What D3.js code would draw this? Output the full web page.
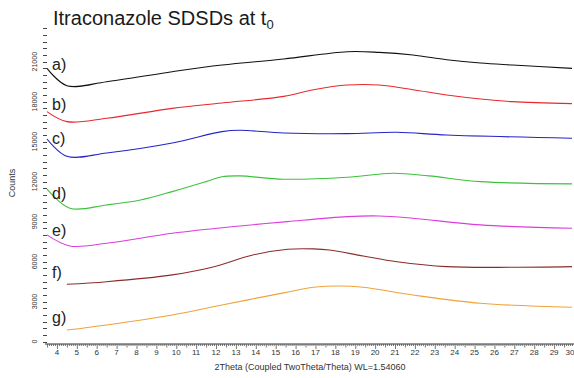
<!DOCTYPE html>
<html>
<head>
<meta charset="utf-8">
<script src="https://cdn.jsdelivr.net/npm/d3@7"></script>
<style>
  body { margin: 0; background: #fff; }
  text { font-family: "Liberation Sans", Arial, sans-serif; }
</style>
</head>
<body>
<div id="chart"></div>
<script>
// XRD patterns, 2Theta (deg) vs counts
var sampleNames = ["a)", "b)", "c)", "d)", "e)", "f)", "g)"];
var sampleColors = ["#111111", "#e8282c", "#2424c8", "#3cc23c", "#dc3cdc", "#8a2c2c", "#f0a23a"];

var thetaA = [3.5, 4.5, 6.5, 9.8, 12.3, 15.4, 18.6, 20.2, 21.9, 23.6, 25.3, 26.9, 29.9];
var countsA = [20500, 19200, 19500, 20250, 20750, 21200, 21750, 21700, 21500, 21150, 20900, 20750, 20500];

var thetaB = [3.5, 4.5, 6.5, 9.8, 12.3, 15.4, 16.9, 18.6, 20.2, 21.9, 23.6, 25.3, 26.9, 29.9];
var countsB = [17250, 16500, 16750, 17500, 17900, 18400, 18900, 19250, 19250, 18900, 18500, 18200, 18000, 17850];

var thetaC = [3.5, 4.5, 6.5, 9.8, 12.3, 13.2, 15.4, 18.6, 21.1, 23.6, 29.9];
var countsC = [15200, 13900, 14150, 14900, 15750, 15850, 15650, 15600, 15700, 15500, 15250];

var thetaD = [3.5, 4.65, 6.5, 8.2, 9.8, 11.5, 12.3, 13.2, 15.4, 18.6, 20.9, 22.7, 25.3, 29.9];
var countsD = [11430, 10000, 10250, 10620, 11250, 12000, 12370, 12430, 12180, 12330, 12630, 12430, 12000, 11830];

var thetaE = [3.5, 4.65, 6.5, 9.8, 13.2, 15.6, 18.6, 20.2, 21.9, 25.3, 29.9];
var countsE = [8000, 7170, 7370, 8120, 8670, 9000, 9370, 9420, 9250, 8750, 8500];

var thetaF = [4.5, 6.5, 9.8, 11.8, 13.85, 15.6, 16.9, 17.7, 19.4, 21.1, 23.6, 26.9, 29.9];
var countsF = [4300, 4490, 5000, 5570, 6490, 6920, 6950, 6870, 6420, 5990, 5620, 5570, 5620];

var thetaG = [4.5, 6.5, 9.8, 12.3, 15.4, 16.9, 18.2, 19.4, 21.9, 25.3, 29.9];
var countsG = [860, 1240, 1990, 2740, 3650, 4070, 4170, 4070, 3490, 2870, 2570];

// where the a) ... g) labels sit (counts)
var labelCounts = [20760, 17760, 15280, 11150, 8370, 5220, 1840];

var xTicks = d3.range(4, 31);
var yTicks = d3.range(0, 21001, 3000);

var svgWidth = 574;
var svgHeight = 378;

var svg = d3.select("#chart")
  .append("svg")
  .attr("width", svgWidth)
  .attr("height", svgHeight);

svg.append("rect")
  .attr("width", svgWidth)
  .attr("height", svgHeight)
  .attr("fill", "#fff");

var xScale = d3.scaleLinear()
  .domain([3.45, 30])
  .range([46, 574]);

var yScale = d3.scaleLinear()
  .domain([0, 21000])
  .range([341.5, 61.7]);

// title
var title = svg.append("text")
  .attr("x", 53)
  .attr("y", 25)
  .attr("font-size", 20)
  .attr("fill", "#1a1a1a")
  .text("Itraconazole SDSDs at t");
title.append("tspan")
  .attr("font-size", 13)
  .attr("dy", 4)
  .text("0");

// x axis: line + comb of ticks
var xAxisY = 344;
svg.append("line")
  .attr("x1", 45).attr("x2", svgWidth)
  .attr("y1", xAxisY).attr("y2", xAxisY)
  .attr("stroke", "#333")
  .attr("stroke-width", 1);

var minorX = d3.range(35, 301).map(d => d / 10);
svg.append("g").selectAll("line")
  .data(minorX)
  .enter()
  .append("line")
  .attr("x1", d => xScale(d) + 0.5)
  .attr("x2", d => xScale(d) + 0.5)
  .attr("y1", xAxisY)
  .attr("y2", d => {
    var r = Math.round(d * 10) % 10;
    if (r === 0) return xAxisY + 5;
    if (r === 5) return xAxisY + 3.5;
    return xAxisY + 2;
  })
  .attr("stroke", "#555")
  .attr("stroke-width", 0.8);

svg.append("g").selectAll("text")
  .data(xTicks)
  .enter()
  .append("text")
  .attr("x", d => Math.min(xScale(d), 570))
  .attr("y", 355)
  .attr("text-anchor", "middle")
  .attr("font-size", 8)
  .attr("fill", "#333")
  .text(d => d);

svg.append("text")
  .attr("x", 310)
  .attr("y", 370)
  .attr("text-anchor", "middle")
  .attr("font-size", 9)
  .attr("fill", "#333")
  .text("2Theta (Coupled TwoTheta/Theta) WL=1.54060");

// y axis: only dashes, every 500 counts
svg.append("g").selectAll("line")
  .data(d3.range(0, 23501, 500))
  .enter()
  .append("line")
  .attr("x1", 43)
  .attr("x2", 47)
  .attr("y1", d => Math.round(yScale(d)) + 0.5)
  .attr("y2", d => Math.round(yScale(d)) + 0.5)
  .attr("stroke", "#444")
  .attr("stroke-width", 1);

svg.append("g").selectAll("text")
  .data(yTicks)
  .enter()
  .append("text")
  .attr("transform", d => `translate(37, ${yScale(d)}) rotate(-90)`)
  .attr("text-anchor", "middle")
  .attr("font-size", 7)
  .attr("fill", "#333")
  .text(d => d);

svg.append("text")
  .attr("transform", "translate(15, 183) rotate(-90)")
  .attr("text-anchor", "middle")
  .attr("font-size", 9)
  .attr("fill", "#333")
  .text("Counts");

// the patterns
var thetas = [thetaA, thetaB, thetaC, thetaD, thetaE, thetaF, thetaG];
var counts = [countsA, countsB, countsC, countsD, countsE, countsF, countsG];

var line = d3.line()
  .x(d => xScale(d[0]))
  .y(d => yScale(d[1]))
  .curve(d3.curveCatmullRom.alpha(0.5));

sampleNames.forEach(function(name, i) {
  var pts = thetas[i].map((t, j) => [t, counts[i][j]]);
  svg.append("path")
    .datum(pts)
    .attr("d", line)
    .attr("fill", "none")
    .attr("stroke", sampleColors[i])
    .attr("stroke-width", 1.1);

  svg.append("text")
    .attr("x", 52)
    .attr("y", yScale(labelCounts[i]))
    .attr("dy", "0.35em")
    .attr("font-size", 16)
    .attr("fill", "#222")
    .text(name);
});
</script>
</body>
</html>
